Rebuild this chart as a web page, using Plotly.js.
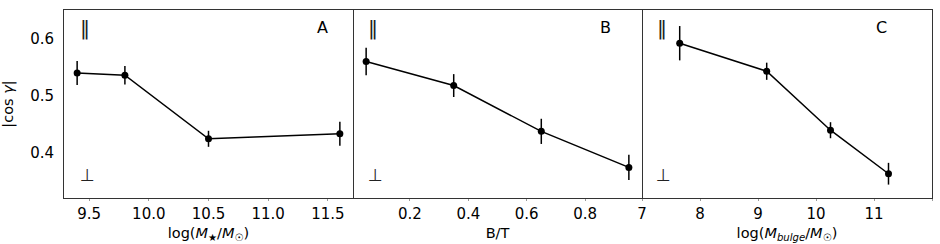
<!DOCTYPE html>
<html><head><meta charset="utf-8">
<script src="https://cdn.plot.ly/plotly-3.0.1.min.js"></script>
<style>body{margin:0;background:#fff}#c{width:940px;height:244px}</style>
</head><body><div id="c"></div>
<script>
// Panel A: stellar mass
const xA = [9.4, 9.8, 10.5, 11.6];
const yA = [0.540, 0.536, 0.425, 0.434];
const eA = [0.021, 0.016, 0.014, 0.021];
// Panel B: bulge-to-total ratio
const xB = [0.05, 0.35, 0.65, 0.95];
const yB = [0.560, 0.518, 0.438, 0.375];
const eB = [0.024, 0.020, 0.022, 0.022];
// Panel C: bulge mass
const xC = [7.65, 9.15, 10.25, 11.25];
const yC = [0.592, 0.543, 0.440, 0.364];
const eC = [0.030, 0.015, 0.014, 0.019];
const panelLabels = ['A', 'B', 'C'];
const xTitles = ['log(<i>M</i><sub>★</sub>/<i>M</i><sub>☉</sub>)', 'B/T', 'log(<i>M<sub>bulge</sub></i>/<i>M</i><sub>☉</sub>)'];
const yTitle = '|cos <i>γ</i>|';
const bTicks = [0.2, 0.4, 0.6, 0.8];

const F = 'DejaVu Sans, sans-serif';
const LC = '#333';
function tr(x, y, e, n) {
  return {x: x, y: y, xaxis: 'x' + n, yaxis: 'y' + n, mode: 'lines+markers', type: 'scatter',
    line: {color: '#000', width: 1.5}, marker: {color: '#000', size: 7},
    error_y: {type: 'data', array: e, color: '#000', thickness: 1.5, width: 0}, showlegend: false};
}
const data = [tr(xA, yA, eA, ''), tr(xB, yB, eB, '2'), tr(xC, yC, eC, '3')];
const d1 = 289 / 868, d2 = 578 / 868;
const ax = (dom, range, dtick, title, anchor) => ({domain: dom, range: range, dtick: dtick, anchor: anchor,
  showline: true, mirror: true, linecolor: LC, linewidth: 1, showgrid: false, zeroline: false,
  ticks: 'outside', ticklen: 2, tickcolor: '#999', tickwidth: 1,
  tickfont: {family: F, size: 15, color: '#000'},
  title: {text: title, font: {family: F, size: 14.5, color: '#000'}, standoff: 5}});
const yax = (show, anchor, side) => ({domain: [0, 1], range: [0.3216, 0.650], dtick: 0.1, anchor: anchor,
  side: side, showline: true, mirror: show, linecolor: LC, linewidth: 1, showgrid: false, zeroline: false,
  ticks: show ? 'outside' : '', ticklen: 6, tickcolor: 'rgba(0,0,0,0)',
  showticklabels: show, tickformat: '.1f', tickfont: {family: F, size: 15, color: '#000'},
  title: {text: show ? yTitle : '', font: {family: F, size: 14.5, color: '#000'}, standoff: 16}});
const ann = [];
const xrefs = ['x domain', 'x2 domain', 'x3 domain'];
const yrefs = ['y domain', 'y2 domain', 'y3 domain'];
const parX = [21, 20, 19.7], perpX = [23, 22.7, 21.3], labX = [258, 252.7, 238.7];
for (let i = 0; i < 3; i++) {
  const base = {xref: xrefs[i], yref: yrefs[i], showarrow: false, xanchor: 'center', yanchor: 'middle'};
  ann.push(Object.assign({x: parX[i] / 289, y: 1 - 18 / 188, text: '‖', font: {family: F, size: 20, color: '#222'}}, base));
  ann.push(Object.assign({x: perpX[i] / 289, y: 1 - 165 / 188, text: '⊥', font: {family: F, size: 17, color: '#222'}}, base));
  ann.push(Object.assign({x: labX[i] / 289, y: 1 - 18 / 188, text: panelLabels[i], font: {family: F, size: 16, color: '#000'}}, base));
}
const layout = {
  width: 940, height: 244, margin: {l: 64, r: 8, t: 10, b: 46},
  paper_bgcolor: '#fff', plot_bgcolor: '#fff', font: {family: F, color: '#000'},
  xaxis: Object.assign(ax([0, d1], [9.29, 11.71], 0.5, xTitles[0], 'y'), {tickformat: '.1f'}),
  xaxis2: Object.assign(ax([d1, d2], [0.005, 0.995], 0.2, xTitles[1], 'y2'), {tickvals: bTicks, ticktext: bTicks.map(v => v.toFixed(1))}),
  xaxis3: ax([d2, 1], [7, 12], 1, xTitles[2], 'y3'),
  yaxis: yax(true, 'x', 'left'),
  yaxis2: yax(false, 'x2', 'right'),
  yaxis3: yax(false, 'x3', 'right'),
  annotations: ann
};
Plotly.newPlot('c', data, layout, {staticPlot: true});
</script></body></html>
